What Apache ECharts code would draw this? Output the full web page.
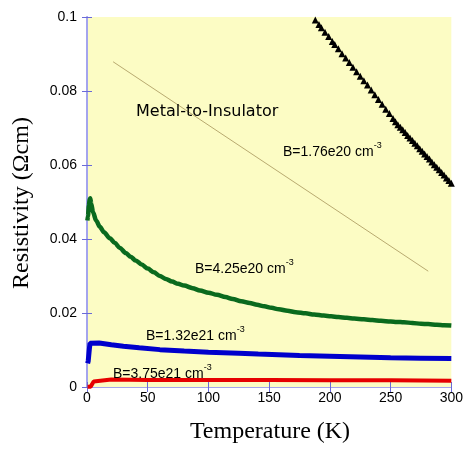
<!DOCTYPE html>
<html><head><meta charset="utf-8">
<script src="https://cdn.jsdelivr.net/npm/echarts@6/dist/echarts.min.js"></script>
<style>html,body{margin:0;padding:0;background:#fff}#c{width:466px;height:450px}</style>
</head><body><div id="c"></div>
<script>
// ---- data ----
const xTicks = [0, 50, 100, 150, 200, 250, 300];
const yTicks = [0, 0.02, 0.04, 0.06, 0.08, 0.1];

// B=1.76e20 cm-3 (black triangles)
const tB176 = [188,191,193,196,199,202,204,207,210,213,216,219,222,225,228,231,234,237,240,243,246,249,252,254,256,258,260,262,264,266,268,270,272,274,276,278,280,282,284,286,288,290,292,294,296,298,300];
const rB176 = [0.0992,0.0980,0.0971,0.0959,0.0947,0.0934,0.0926,0.0914,0.0901,0.0889,0.0877,0.0864,0.0852,0.0840,0.0828,0.0816,0.0803,0.0790,0.0777,0.0764,0.0751,0.0739,0.0726,0.0717,0.0709,0.0702,0.0695,0.0688,0.0680,0.0673,0.0666,0.0659,0.0652,0.0644,0.0637,0.0630,0.0623,0.0616,0.0608,0.0601,0.0594,0.0587,0.0580,0.0573,0.0565,0.0558,0.0551];

// B=4.25e20 cm-3 (green)
const tB425 = [0.3,0.8,1.5,2.2,2.7,3.5,5,7.5,10.6,14,18.8,23,27,32,36,40,45,50,55,60,65,70,75,80,87,93,100,107,114,120,127,134,140,146,152,158,165,172,180,187,195,201,207,214,220,228,235,242,250,255,261,268,275,281,288,294,300];
const rB425 = [0.0450,0.0462,0.0490,0.0508,0.0510,0.0495,0.0472,0.0450,0.0433,0.0418,0.0402,0.0389,0.0376,0.0362,0.0352,0.0342,0.0331,0.0320,0.0310,0.0300,0.0292,0.0285,0.0279,0.0274,0.0267,0.0261,0.0255,0.0249,0.0243,0.0238,0.0232,0.0227,0.0222,0.0218,0.0214,0.0210,0.0206,0.0202,0.0199,0.0196,0.0193,0.0191,0.0189,0.0187,0.0185,0.0183,0.0181,0.0179,0.0177,0.0176,0.0175,0.0173,0.0171,0.0170,0.0168,0.0167,0.0166];

// B=1.32e21 cm-3 (blue)
const tB132 = [0.5,1,2,2.5,4,10,20,30,43,60,80,100,125,141,175,200,225,250,275,300];
const rB132 = [0.0064,0.0070,0.0105,0.0118,0.0122,0.0119,0.0114,0.0110,0.0106,0.0101,0.0097,0.0094,0.0091,0.0089,0.0085,0.0083,0.0081,0.0079,0.0078,0.0077];

// B=3.75e21 cm-3 (red)
const tB375 = [0.5,3,4.5,5.5,7,20,50,100,150,200,250,300];
const rB375 = [0.0001,0.0001,0.0003,0.0015,0.0020,0.0020,0.0019,0.0019,0.0019,0.0018,0.0018,0.0017];

// Metal-to-Insulator guide line
const tMI = [21.5, 281];
const rMI = [0.0879, 0.0313];

const zip = (a, b) => a.map((v, i) => [v, b[i]]);

const axisLineColor = '#a4a4ee';
const tickColor = '#6a6ad8';
const labelFont = {color: '#000', fontFamily: 'Liberation Sans, Arial, sans-serif', fontSize: 14};

const chart = echarts.init(document.getElementById('c'));
const supRich = {
  b: {fontFamily: 'Liberation Sans, Arial, sans-serif', fontSize: 14, color: '#000', verticalAlign: 'bottom', lineHeight: 18},
  s: {fontFamily: 'Liberation Sans, Arial, sans-serif', fontSize: 9, color: '#000', verticalAlign: 'top', lineHeight: 18, padding: [0,0,6,0]}
};
function bLabel(txt, x, y) {
  return {type: 'text', x: x, y: y, z: 100,
    style: {text: '{b|' + txt + ' cm}{s|-3}', rich: supRich, align: 'left', verticalAlign: 'middle'}};
}

chart.setOption({
  animation: false,
  grid: {left: 87, right: 12, top: 17, bottom: 63, show: true, backgroundColor: '#fcfcc4', borderWidth: 0},
  xAxis: [
    {type: 'value', min: 0, max: 300, interval: 50, position: 'bottom',
     axisLine: {show: true, lineStyle: {color: axisLineColor, width: 1}},
     axisTick: {show: true, inside: true, length: 5, lineStyle: {color: tickColor}},
     axisLabel: Object.assign({margin: 4}, labelFont),
     splitLine: {show: false}},
    {type: 'value', min: 0, max: 300, interval: 50, position: 'top',
     axisLine: {show: true, lineStyle: {color: axisLineColor, width: 1}},
     axisTick: {show: true, inside: true, length: 5, lineStyle: {color: tickColor}},
     axisLabel: {show: false}, splitLine: {show: false}}
  ],
  yAxis: [
    {type: 'value', min: 0, max: 0.1, interval: 0.02, position: 'left',
     axisLine: {show: true, lineStyle: {color: axisLineColor, width: 2}},
     axisTick: {show: true, inside: true, length: 5, lineStyle: {color: tickColor}},
     axisLabel: Object.assign({margin: 10, formatter: v => String(+v.toFixed(2))}, labelFont),
     splitLine: {show: false}},
    {type: 'value', min: 0, max: 0.1, interval: 0.02, position: 'right',
     axisLine: {show: true, lineStyle: {color: axisLineColor, width: 1}},
     axisTick: {show: true, inside: true, length: 5, lineStyle: {color: tickColor}},
     axisLabel: {show: false}, splitLine: {show: false}}
  ],
  series: [
    {type: 'line', data: zip(tMI, rMI), showSymbol: false, lineStyle: {color: '#b8aa70', width: 1}, z: 1},
    {type: 'line', data: zip(tB375, rB375), showSymbol: false, lineStyle: {color: '#e60000', width: 4}, z: 2},
    {type: 'line', data: zip(tB132, rB132), showSymbol: false, lineStyle: {color: '#0000cc', width: 5}, z: 2},
    {type: 'line', data: zip(tB425, rB425), showSymbol: false, smooth: 0.3, smoothMonotone: 'x', lineStyle: {color: '#0a6a1e', width: 4.5}, z: 2},
    {type: 'scatter', data: zip(tB176, rB176), symbol: 'triangle', symbolSize: 7, itemStyle: {color: '#000', opacity: 1, borderWidth: 0}, z: 3}
  ],
  graphic: [
    {type: 'text', x: 22, y: 203, rotation: Math.PI / 2, z: 100,
     style: {text: 'Resistivity (\u03A9cm)', font: '24px "Liberation Serif", "Times New Roman", serif', fill: '#000', align: 'center', verticalAlign: 'middle'}},
    {type: 'text', x: 270, y: 432, z: 100,
     style: {text: 'Temperature (K)', font: '24px "Liberation Serif", "Times New Roman", serif', fill: '#000', align: 'center', verticalAlign: 'middle'}},
    {type: 'text', x: 136, y: 112, z: 100,
     style: {text: 'Metal-to-Insulator', font: '16px "DejaVu Sans", sans-serif', fill: '#000', align: 'left', verticalAlign: 'middle'}},
    bLabel('B=1.76e20', 283, 150),
    bLabel('B=4.25e20', 195, 267),
    bLabel('B=1.32e21', 146, 334),
    bLabel('B=3.75e21', 113, 372)
  ]
});
</script></body></html>
